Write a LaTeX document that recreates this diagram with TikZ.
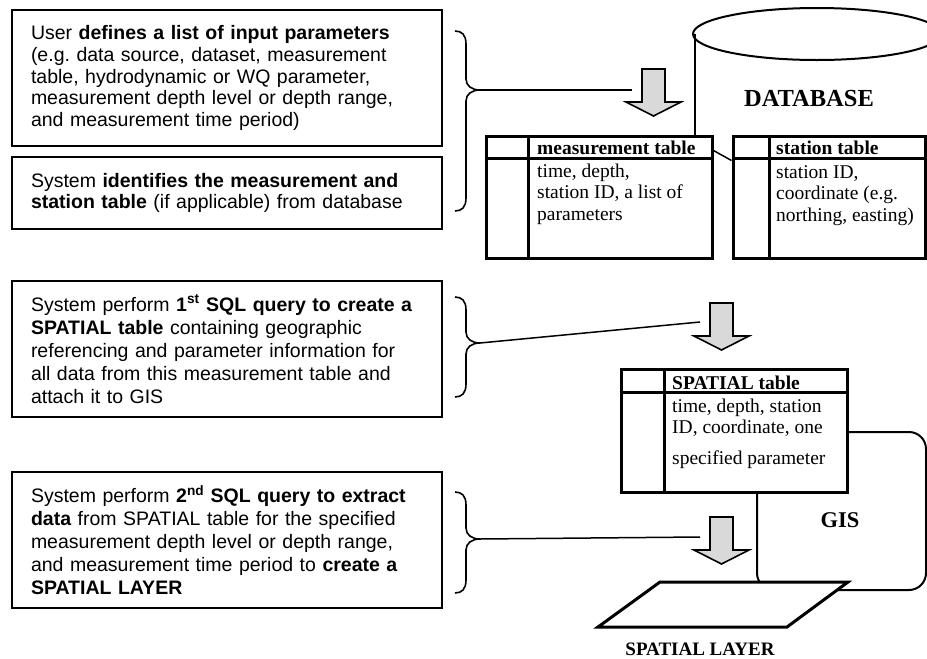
\documentclass[tikz,border=0pt]{standalone}
\usepackage{fontspec}
\setmainfont{Liberation Serif}
\setsansfont{Liberation Sans}
\usetikzlibrary{calc}
\frenchspacing

\definecolor{arrowgray}{RGB}{217,217,217}

\tikzset{
  stepbox/.style={draw, line width=2pt, minimum width=430pt, minimum height=#1,
    text width=392pt, inner xsep=19pt, inner ysep=0pt, align=left,
    font=\sffamily\fontsize{19.5}{21.6}\selectfont},
  widespace/.style={font=\sffamily\fontsize{19.5}{23}\selectfont},
  tablebox/.style={draw, line width=3pt, inner sep=0pt},
  tableline/.style={line width=3pt},
  tablehead/.style={anchor=base west, inner sep=0pt, font=\bfseries\fontsize{19.5}{21.5}\selectfont},
  % multi-line bodies are placed by the baseline of their last line
  tablebody/.style={anchor=base west, inner sep=0pt, align=left, font=\fontsize{19.5}{21.5}\selectfont},
  bracestyle/.style={line width=1.6pt},
  link/.style={line width=1.5pt},
  outline/.style={line width=2pt},
  biglabel/.style={inner sep=0pt, font=\bfseries\fontsize{24.5}{26}\selectfont},
  downarrow/.pic={
    \draw[line width=1.6pt, fill=arrowgray, line join=miter]
      (-11.5,0) -- (11.5,0) -- (11.5,33) -- (27.5,33) -- (0,47)
      -- (-27.5,33) -- (-11.5,33) -- cycle;
  }
}

% right curly brace: top y, tip y, bottom y, name of the tip coordinate
\newcommand{\rightbrace}[4]{%
  \draw[bracestyle] (455,#1) .. controls (462,#1) and (466,{#1+4}) .. (466,{#1+13})
    -- (466,{#2-11}) .. controls (466,{#2-4}) and (472,#2) .. (480,#2) coordinate (#4)
    .. controls (472,#2) and (466,{#2+4}) .. (466,{#2+11})
    -- (466,{#3-13}) .. controls (466,{#3-4}) and (462,#3) .. (455,#3);}

\begin{document}
\begin{tikzpicture}[x=1pt, y=-1pt]
\useasboundingbox (0,0) rectangle (927,659);

% ---- step descriptions ----
\node[stepbox=136pt] (s1) at (227,78) {User \textbf{defines a list of input parameters}\\
  (e.g. data source, dataset, measurement\\
  table, hydrodynamic or WQ parameter,\\
  measurement depth level or depth range,\\
  and measurement time period)};
\node[stepbox=72pt] (s2) at (227,193) {System \textbf{identifies the measurement and}\\
  \textbf{station table} (if applicable) from database};
\node[stepbox=136pt, widespace] (s3) at (227,349) {System perform \textbf{1\textsuperscript{st} SQL query to create a}\\
  \textbf{SPATIAL table} containing geographic\\
  referencing and parameter information for\\
  all data from this measurement table and\\
  attach it to GIS};
\node[stepbox=136pt, widespace] (s4) at (227,540) {System perform \textbf{2\textsuperscript{nd} SQL query to extract}\\
  \textbf{data} from SPATIAL table for the specified\\
  measurement depth level or depth range,\\
  and measurement time period to \textbf{create a}\\
  \textbf{SPATIAL LAYER}};

% ---- braces ----
\rightbrace{31}{90}{211}{tip1}
\rightbrace{297}{343}{397}{tip2}
\rightbrace{492}{539}{593}{tip3}

% ---- database cylinder ----
\draw[outline] (695,136) -- (695,34);
\draw[outline] (817,34) ellipse [x radius=124pt, y radius=26pt];
\node[biglabel] (dbl) at (809,98.5) {DATABASE};

% ---- block arrows ----
\pic at (653.5,69) {downarrow};
\pic at (721.5,303) {downarrow};
\pic at (721.5,517) {downarrow};
\coordinate (in1) at (632,90);
\coordinate (in2) at (700,322);
\coordinate (in3) at (700,537);

\draw[link] (tip1) -- (in1);
\draw[link] (tip2) -- (in2);
\draw[link] (tip3) -- (in3);

% ---- measurement table ----
\node[tablebox, minimum width=226pt, minimum height=122pt] (mt) at (599,197) {};
\draw[tableline] ($(mt.north west)+(0,24)$) -- ($(mt.north east)+(0,24)$);
\draw[tableline] ($(mt.north west)+(44,0)$) -- ($(mt.south west)+(44,0)$);
\node[tablehead] (mth) at (537,154) {measurement table};
\node[tablebody] (mtb) at (537,220) {time, depth,\\ station ID, a list of\\ parameters};

% ---- station table ----
\node[tablebox, minimum width=192pt, minimum height=122pt] (stt) at (829,197) {};
\draw[tableline] ($(stt.north west)+(0,24)$) -- ($(stt.north east)+(0,24)$);
\draw[tableline] ($(stt.north west)+(38,0)$) -- ($(stt.south west)+(38,0)$);
\node[tablehead] (stth) at (776,154) {station table};
\node[tablebody] (sttb) at (776,221) {station ID,\\ coordinate (e.g.\\ northing, easting)};

\draw[link] ($(mt.north east)+(0,16)$) -- ($(stt.north west)+(0,26)$);

% ---- GIS outline ----
\draw[outline, rounded corners=17pt] (847,432) -- (926,432) -- (926,590) -- (757,590) -- (757,492);
\node[inner sep=0pt, font=\bfseries\fontsize{22.5}{24}\selectfont] (gisl) at (840,520.5) {GIS};

% ---- SPATIAL table ----
\node[tablebox, fill=white, minimum width=226pt, minimum height=123pt] (sp) at (734,430.5) {};
\draw[tableline] ($(sp.north west)+(0,25)$) -- ($(sp.north east)+(0,25)$);
\draw[tableline] ($(sp.north west)+(45,0)$) -- ($(sp.south west)+(45,0)$);
\node[tablehead] (sph) at (672,389) {SPATIAL table};
\node[tablebody] (spb) at (672,464) {time, depth, station\\ ID, coordinate, one\\[9pt] specified parameter};

% ---- spatial layer ----
\draw[line width=3pt, fill=white, line join=miter] (660,582) -- (848,582) -- (787,627) -- (598,627) -- cycle;
\node[anchor=base, inner sep=0pt, font=\bfseries\fontsize{19}{20}\selectfont] (layer) at (700,655) {SPATIAL LAYER};

\end{tikzpicture}
\end{document}
